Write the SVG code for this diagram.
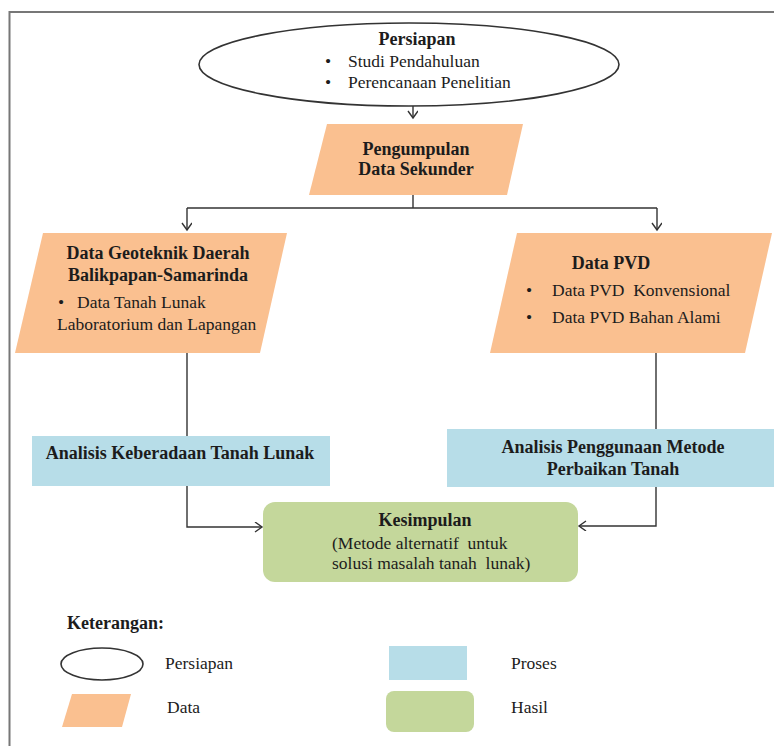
<svg xmlns="http://www.w3.org/2000/svg" width="774" height="746" viewBox="0 0 774 746">
<style>
text{font-family:"Liberation Serif","Times New Roman",serif;fill:#1c1c1c;white-space:pre}
.b{font-weight:bold;font-size:18px}
.r{font-size:17.5px}
.c{text-anchor:middle}
.data{fill:#FAC090}
.proc{fill:#B7DDE8}
.res{fill:#C4D79B}
.prep{fill:#fff;stroke:#333;stroke-width:1.6}
.ln{fill:none;stroke:#333;stroke-width:1.4}
</style>
<defs>
<marker id="arr" markerWidth="10" markerHeight="12" refX="8" refY="5" orient="auto" markerUnits="userSpaceOnUse">
<path d="M1,0 L8,5 L1,10" fill="none" stroke="#333" stroke-width="1.4"/>
</marker>
</defs>
<rect width="774" height="746" fill="#fff"/>
<g id="frame">
<path d="M9.5,746 V12 H774" fill="none" stroke="#777" stroke-width="2"/>
</g>
<g id="connectors" class="ln">
<path d="M413,106 V118" marker-end="url(#arr)"/>
<path d="M413,195 V208"/>
<path d="M187,208 H657"/>
<path d="M187,208 V230" marker-end="url(#arr)"/>
<path d="M657,208 V230" marker-end="url(#arr)"/>
<path d="M187,353 V436"/>
<path d="M656,353 V429"/>
<path d="M187,486 V527 H262" marker-end="url(#arr)"/>
<path d="M656,487 V526 H579" marker-end="url(#arr)"/>
</g>
<g id="persiapan">
<ellipse class="prep" cx="409" cy="64.5" rx="210" ry="41.5"/>
<text class="b c" x="417" y="45">Persiapan</text>
<text class="r c" x="328" y="67">•</text>
<text class="r" x="348" y="67">Studi Pendahuluan</text>
<text class="r c" x="328" y="88">•</text>
<text class="r" x="348" y="88">Perencanaan Penelitian</text>
</g>
<g id="pengumpulan">
<polygon class="data" points="327,124 523,124 507,195 309,195"/>
<text class="b c" x="416" y="155">Pengumpulan</text>
<text class="b c" x="416" y="175">Data Sekunder</text>
</g>
<g id="geoteknik">
<polygon class="data" points="43,233 287,233 260,353 15,353"/>
<text class="b c" x="158" y="259">Data Geoteknik Daerah</text>
<text class="b c" x="158" y="281">Balikpapan-Samarinda</text>
<text class="r c" x="61" y="308">•</text>
<text class="r" x="77" y="308">Data Tanah Lunak</text>
<text class="r" x="57" y="330">Laboratorium dan Lapangan</text>
</g>
<g id="pvd">
<polygon class="data" points="517,233 772,233 745,353 490,353"/>
<text class="b c" x="611" y="269">Data PVD</text>
<text class="r c" x="529" y="296">•</text>
<text class="r" x="552" y="296">Data PVD  Konvensional</text>
<text class="r c" x="529" y="323">•</text>
<text class="r" x="552" y="323">Data PVD Bahan Alami</text>
</g>
<g id="analisis-tanah">
<rect class="proc" x="32" y="436" width="298" height="50"/>
<text class="b c" x="180" y="459">Analisis Keberadaan Tanah Lunak</text>
</g>
<g id="analisis-metode">
<rect class="proc" x="447" y="429" width="327" height="58"/>
<text class="b c" x="613" y="453">Analisis Penggunaan Metode</text>
<text class="b c" x="613" y="475">Perbaikan Tanah</text>
</g>
<g id="kesimpulan">
<rect class="res" x="263" y="502" width="315" height="80" rx="12"/>
<text class="b c" x="425" y="526">Kesimpulan</text>
<text class="r" x="332" y="549">(Metode alternatif  untuk</text>
<text class="r" x="332" y="569">solusi masalah tanah  lunak)</text>
</g>
<g id="legend">
<text class="b" x="67" y="629">Keterangan:</text>
<ellipse class="prep" cx="102" cy="664" rx="41" ry="16"/>
<text class="r" x="165" y="669">Persiapan</text>
<polygon class="data" points="72,694 131,694 122,727 62,727"/>
<text class="r" x="167" y="713">Data</text>
<rect class="proc" x="389" y="646" width="78" height="34"/>
<text class="r" x="511" y="669">Proses</text>
<rect class="res" x="386" y="691" width="88" height="41" rx="8"/>
<text class="r" x="511" y="713">Hasil</text>
</g>
</svg>
